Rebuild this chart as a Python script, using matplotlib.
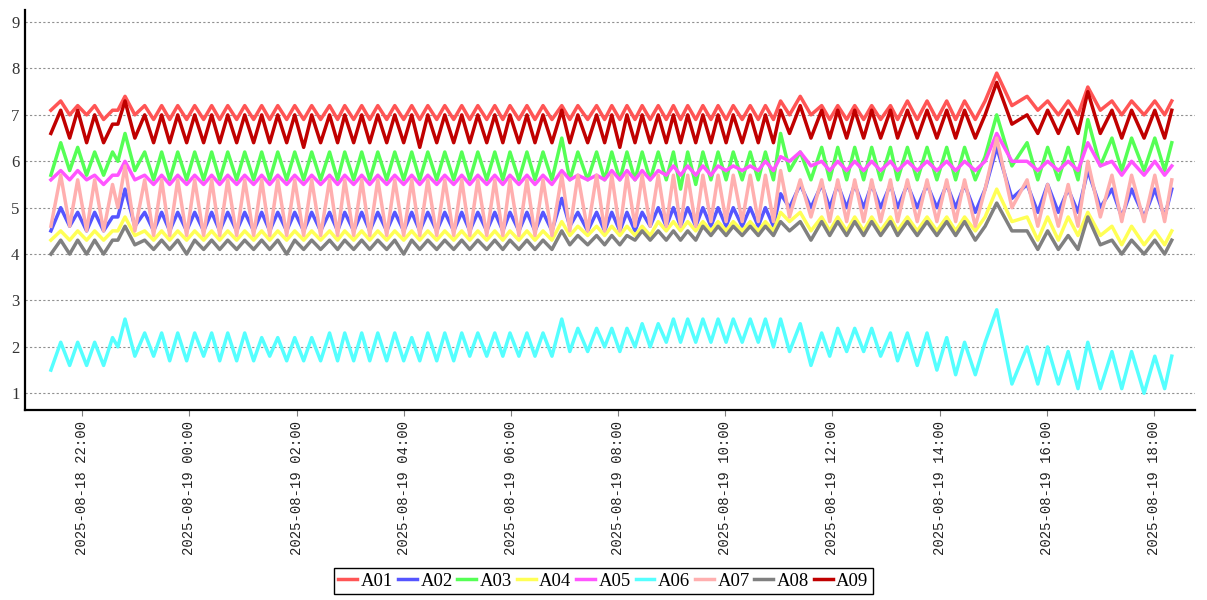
import numpy as np
import pandas as pd
import matplotlib
matplotlib.use("Agg")
import matplotlib.pyplot as plt
import matplotlib.dates as mdates

# sample times (peaks and troughs), 18th before midnight, 19th after
times = [
    "21:25", "21:36", "21:46", "21:55", "22:05", "22:14", "22:24", "22:34", "22:40", "22:48", "22:59",
    "23:10", "23:20", "23:29", "23:38", "23:47", "23:57", "00:06", "00:16", "00:25", "00:34",
    "00:43", "00:53", "01:02", "01:12", "01:21", "01:30", "01:39", "01:49", "01:58", "02:08",
    "02:17", "02:27", "02:37", "02:46", "02:54", "03:04", "03:13", "03:22", "03:31", "03:41",
    "03:50", "04:00", "04:09", "04:18", "04:27", "04:37", "04:46", "04:56", "05:05", "05:14",
    "05:23", "05:33", "05:42", "05:51", "05:59", "06:09", "06:18", "06:27", "06:36", "06:46",
    "06:57", "07:06", "07:15", "07:26", "07:36", "07:45", "07:53", "08:02", "08:10", "08:19",
    "08:27", "08:36", "08:45", "08:54", "09:02", "09:10", "09:18", "09:27", "09:35", "09:44",
    "09:52", "10:01", "10:09", "10:19", "10:28", "10:37", "10:45", "10:54", "11:02", "11:12",
    "11:24", "11:36", "11:48", "11:57", "12:06", "12:16", "12:25", "12:35", "12:44", "12:54",
    "13:05", "13:13", "13:24", "13:35", "13:46", "13:57", "14:08", "14:18", "14:28", "14:40",
    "14:51", "15:04", "15:21", "15:38", "15:50", "16:01", "16:13", "16:24", "16:35", "16:46",
    "17:00", "17:13", "17:24", "17:35", "17:49", "18:01", "18:12", "18:20",
]

a01 = [
    7.1, 7.3, 7.0, 7.2, 7.0, 7.2, 6.9, 7.1, 7.1, 7.4, 7.0,
    7.2, 6.9, 7.2, 6.9, 7.2, 6.9, 7.2, 6.9, 7.2, 6.9,
    7.2, 6.9, 7.2, 6.9, 7.2, 6.9, 7.2, 6.9, 7.2, 6.9,
    7.2, 6.9, 7.2, 6.9, 7.2, 6.9, 7.2, 6.9, 7.2, 6.9,
    7.2, 6.9, 7.2, 6.9, 7.2, 6.9, 7.2, 6.9, 7.2, 6.9,
    7.2, 6.9, 7.2, 6.9, 7.2, 6.9, 7.2, 6.9, 7.2, 6.9,
    7.2, 6.9, 7.2, 6.9, 7.2, 6.9, 7.2, 6.9, 7.2, 6.9,
    7.2, 6.9, 7.2, 6.9, 7.2, 6.9, 7.2, 6.9, 7.2, 6.9,
    7.2, 6.9, 7.2, 6.9, 7.2, 6.9, 7.2, 6.9, 7.3, 7.0,
    7.4, 7.0, 7.2, 6.9, 7.2, 6.9, 7.2, 6.9, 7.2, 6.9,
    7.2, 6.9, 7.3, 6.9, 7.3, 6.9, 7.3, 6.9, 7.3, 6.9,
    7.3, 7.9, 7.2, 7.4, 7.1, 7.3, 7.0, 7.3, 7.0, 7.6,
    7.1, 7.3, 7.0, 7.3, 7.0, 7.3, 7.0, 7.3,
]
a02 = [
    4.5, 5.0, 4.6, 4.9, 4.5, 4.9, 4.5, 4.8, 4.8, 5.4, 4.6,
    4.9, 4.5, 4.9, 4.5, 4.9, 4.5, 4.9, 4.5, 4.9, 4.5,
    4.9, 4.5, 4.9, 4.5, 4.9, 4.5, 4.9, 4.5, 4.9, 4.5,
    4.9, 4.5, 4.9, 4.5, 4.9, 4.5, 4.9, 4.5, 4.9, 4.5,
    4.9, 4.5, 4.9, 4.5, 4.9, 4.5, 4.9, 4.5, 4.9, 4.5,
    4.9, 4.5, 4.9, 4.5, 4.9, 4.5, 4.9, 4.5, 4.9, 4.5,
    5.2, 4.6, 4.9, 4.5, 4.9, 4.5, 4.9, 4.5, 4.9, 4.5,
    4.9, 4.6, 5.0, 4.6, 5.0, 4.6, 5.0, 4.6, 5.0, 4.6,
    5.0, 4.6, 5.0, 4.6, 5.0, 4.6, 5.0, 4.6, 5.3, 5.0,
    5.5, 5.0, 5.5, 5.0, 5.5, 5.0, 5.5, 5.0, 5.5, 5.0,
    5.5, 5.0, 5.5, 5.0, 5.5, 5.0, 5.5, 5.0, 5.5, 4.9,
    5.4, 6.3, 5.2, 5.5, 4.9, 5.5, 4.9, 5.4, 4.9, 5.8,
    5.0, 5.4, 4.8, 5.4, 4.8, 5.4, 4.8, 5.4,
]
a03 = [
    5.7, 6.4, 5.8, 6.3, 5.7, 6.2, 5.7, 6.2, 6.0, 6.6, 5.8,
    6.2, 5.6, 6.2, 5.6, 6.2, 5.6, 6.2, 5.6, 6.2, 5.6,
    6.2, 5.6, 6.2, 5.6, 6.2, 5.6, 6.2, 5.6, 6.2, 5.6,
    6.2, 5.6, 6.2, 5.6, 6.2, 5.6, 6.2, 5.6, 6.2, 5.6,
    6.2, 5.6, 6.2, 5.6, 6.2, 5.6, 6.2, 5.6, 6.2, 5.6,
    6.2, 5.6, 6.2, 5.6, 6.2, 5.6, 6.2, 5.6, 6.2, 5.6,
    6.5, 5.6, 6.2, 5.6, 6.2, 5.6, 6.2, 5.6, 6.2, 5.6,
    6.2, 5.6, 6.2, 5.6, 6.2, 5.4, 6.2, 5.5, 6.2, 5.6,
    6.2, 5.6, 6.2, 5.6, 6.2, 5.6, 6.2, 5.6, 6.6, 5.8,
    6.2, 5.6, 6.3, 5.6, 6.3, 5.6, 6.3, 5.6, 6.3, 5.6,
    6.3, 5.6, 6.3, 5.6, 6.3, 5.6, 6.3, 5.6, 6.3, 5.6,
    6.1, 7.0, 5.9, 6.4, 5.6, 6.3, 5.6, 6.3, 5.6, 6.9,
    5.9, 6.5, 5.8, 6.5, 5.8, 6.5, 5.8, 6.4,
]
a04 = [
    4.3, 4.5, 4.3, 4.5, 4.3, 4.5, 4.3, 4.5, 4.5, 4.8, 4.4,
    4.5, 4.3, 4.5, 4.3, 4.5, 4.3, 4.5, 4.3, 4.5, 4.3,
    4.5, 4.3, 4.5, 4.3, 4.5, 4.3, 4.5, 4.3, 4.5, 4.3,
    4.5, 4.3, 4.5, 4.3, 4.5, 4.3, 4.5, 4.3, 4.5, 4.3,
    4.5, 4.3, 4.5, 4.3, 4.5, 4.3, 4.5, 4.3, 4.5, 4.3,
    4.5, 4.3, 4.5, 4.3, 4.5, 4.3, 4.5, 4.3, 4.5, 4.3,
    4.7, 4.4, 4.6, 4.4, 4.6, 4.4, 4.6, 4.4, 4.6, 4.4,
    4.6, 4.4, 4.7, 4.5, 4.7, 4.5, 4.7, 4.5, 4.7, 4.5,
    4.7, 4.5, 4.7, 4.5, 4.7, 4.5, 4.7, 4.5, 4.9, 4.7,
    4.9, 4.5, 4.8, 4.5, 4.8, 4.5, 4.8, 4.5, 4.8, 4.5,
    4.8, 4.5, 4.8, 4.5, 4.8, 4.5, 4.8, 4.5, 4.8, 4.5,
    4.8, 5.4, 4.7, 4.8, 4.3, 4.8, 4.3, 4.8, 4.4, 4.9,
    4.4, 4.6, 4.2, 4.6, 4.2, 4.5, 4.2, 4.5,
]
a05 = [
    5.6, 5.8, 5.6, 5.8, 5.6, 5.7, 5.5, 5.7, 5.7, 6.0, 5.6,
    5.7, 5.5, 5.7, 5.5, 5.7, 5.5, 5.7, 5.5, 5.7, 5.5,
    5.7, 5.5, 5.7, 5.5, 5.7, 5.5, 5.7, 5.5, 5.7, 5.5,
    5.7, 5.5, 5.7, 5.5, 5.7, 5.5, 5.7, 5.5, 5.7, 5.5,
    5.7, 5.5, 5.7, 5.5, 5.7, 5.5, 5.7, 5.5, 5.7, 5.5,
    5.7, 5.5, 5.7, 5.5, 5.7, 5.5, 5.7, 5.5, 5.7, 5.5,
    5.8, 5.6, 5.7, 5.6, 5.7, 5.6, 5.8, 5.6, 5.8, 5.6,
    5.8, 5.6, 5.8, 5.7, 5.9, 5.7, 5.9, 5.7, 5.9, 5.7,
    5.9, 5.8, 5.9, 5.8, 5.9, 5.8, 6.0, 5.8, 6.1, 6.0,
    6.2, 5.9, 6.0, 5.8, 6.0, 5.8, 6.0, 5.8, 6.0, 5.8,
    6.0, 5.8, 6.0, 5.8, 6.0, 5.8, 6.0, 5.8, 6.0, 5.8,
    6.0, 6.6, 6.0, 6.0, 5.8, 6.0, 5.8, 6.0, 5.8, 6.4,
    5.9, 6.0, 5.7, 6.0, 5.7, 6.0, 5.7, 5.9,
]
a06 = [
    1.5, 2.1, 1.6, 2.1, 1.6, 2.1, 1.6, 2.2, 2.0, 2.6, 1.8,
    2.3, 1.8, 2.3, 1.7, 2.3, 1.7, 2.3, 1.8, 2.3, 1.7,
    2.3, 1.7, 2.3, 1.7, 2.2, 1.8, 2.2, 1.7, 2.2, 1.7,
    2.2, 1.7, 2.3, 1.7, 2.3, 1.7, 2.3, 1.7, 2.3, 1.7,
    2.3, 1.7, 2.2, 1.7, 2.3, 1.7, 2.3, 1.7, 2.3, 1.8,
    2.3, 1.8, 2.3, 1.8, 2.3, 1.8, 2.3, 1.8, 2.3, 1.8,
    2.6, 1.9, 2.4, 1.9, 2.4, 2.0, 2.4, 1.9, 2.4, 2.0,
    2.5, 2.0, 2.5, 2.1, 2.6, 2.1, 2.6, 2.1, 2.6, 2.1,
    2.6, 2.1, 2.6, 2.1, 2.6, 2.1, 2.6, 2.0, 2.6, 1.9,
    2.5, 1.6, 2.3, 1.8, 2.4, 1.9, 2.4, 1.9, 2.4, 1.8,
    2.3, 1.7, 2.3, 1.6, 2.3, 1.5, 2.2, 1.4, 2.1, 1.4,
    2.1, 2.8, 1.2, 2.0, 1.2, 2.0, 1.2, 1.9, 1.1, 2.1,
    1.1, 1.9, 1.1, 1.9, 1.0, 1.8, 1.1, 1.8,
]
a07 = [
    4.6, 5.7, 4.6, 5.6, 4.5, 5.6, 4.5, 5.5, 5.0, 5.9, 4.5,
    5.6, 4.4, 5.6, 4.4, 5.6, 4.4, 5.6, 4.4, 5.6, 4.4,
    5.6, 4.4, 5.6, 4.4, 5.6, 4.4, 5.6, 4.4, 5.6, 4.4,
    5.6, 4.4, 5.6, 4.4, 5.6, 4.4, 5.6, 4.4, 5.6, 4.4,
    5.6, 4.4, 5.6, 4.4, 5.6, 4.4, 5.6, 4.4, 5.6, 4.4,
    5.6, 4.4, 5.6, 4.4, 5.6, 4.4, 5.6, 4.4, 5.6, 4.4,
    5.7, 4.5, 5.7, 4.5, 5.7, 4.5, 5.7, 4.5, 5.7, 4.6,
    5.7, 4.6, 5.7, 4.6, 5.7, 4.6, 5.7, 4.6, 5.7, 4.7,
    5.7, 4.7, 5.7, 4.7, 5.7, 4.7, 5.7, 4.7, 5.8, 4.8,
    5.6, 4.8, 5.6, 4.7, 5.6, 4.7, 5.6, 4.7, 5.6, 4.7,
    5.6, 4.7, 5.6, 4.7, 5.6, 4.7, 5.6, 4.7, 5.6, 4.6,
    5.4, 6.5, 5.0, 5.6, 4.6, 5.5, 4.6, 5.5, 4.6, 6.0,
    4.8, 5.7, 4.7, 5.7, 4.7, 5.7, 4.7, 5.6,
]
a08 = [
    4.0, 4.3, 4.0, 4.3, 4.0, 4.3, 4.0, 4.3, 4.3, 4.6, 4.2,
    4.3, 4.1, 4.3, 4.1, 4.3, 4.0, 4.3, 4.1, 4.3, 4.1,
    4.3, 4.1, 4.3, 4.1, 4.3, 4.1, 4.3, 4.0, 4.3, 4.1,
    4.3, 4.1, 4.3, 4.1, 4.3, 4.1, 4.3, 4.1, 4.3, 4.1,
    4.3, 4.0, 4.3, 4.1, 4.3, 4.1, 4.3, 4.1, 4.3, 4.1,
    4.3, 4.1, 4.3, 4.1, 4.3, 4.1, 4.3, 4.1, 4.3, 4.1,
    4.5, 4.2, 4.4, 4.2, 4.4, 4.2, 4.4, 4.2, 4.4, 4.3,
    4.5, 4.3, 4.5, 4.3, 4.5, 4.3, 4.5, 4.3, 4.6, 4.4,
    4.6, 4.4, 4.6, 4.4, 4.6, 4.4, 4.6, 4.4, 4.7, 4.5,
    4.7, 4.3, 4.7, 4.4, 4.7, 4.4, 4.7, 4.4, 4.7, 4.4,
    4.7, 4.4, 4.7, 4.4, 4.7, 4.4, 4.7, 4.4, 4.7, 4.3,
    4.6, 5.1, 4.5, 4.5, 4.1, 4.5, 4.1, 4.4, 4.1, 4.8,
    4.2, 4.3, 4.0, 4.3, 4.0, 4.3, 4.0, 4.3,
]
a09 = [
    6.6, 7.1, 6.5, 7.1, 6.4, 7.0, 6.4, 6.8, 6.8, 7.3, 6.5,
    7.0, 6.4, 7.0, 6.4, 7.0, 6.4, 7.0, 6.4, 7.0, 6.4,
    7.0, 6.4, 7.0, 6.4, 7.0, 6.4, 7.0, 6.4, 7.0, 6.3,
    7.0, 6.4, 7.0, 6.4, 7.0, 6.4, 7.0, 6.4, 7.0, 6.4,
    7.0, 6.4, 7.0, 6.3, 7.0, 6.4, 7.0, 6.4, 7.0, 6.4,
    7.0, 6.4, 7.0, 6.4, 7.0, 6.4, 7.0, 6.4, 7.0, 6.4,
    7.1, 6.4, 7.0, 6.4, 7.0, 6.4, 7.0, 6.3, 7.0, 6.4,
    7.0, 6.4, 7.0, 6.4, 7.0, 6.4, 7.0, 6.4, 7.0, 6.4,
    7.0, 6.4, 7.0, 6.4, 7.0, 6.4, 7.0, 6.4, 7.1, 6.6,
    7.2, 6.5, 7.1, 6.5, 7.1, 6.5, 7.1, 6.5, 7.1, 6.5,
    7.1, 6.5, 7.1, 6.5, 7.1, 6.5, 7.1, 6.5, 7.1, 6.5,
    7.0, 7.7, 6.8, 7.0, 6.6, 7.1, 6.6, 7.1, 6.6, 7.5,
    6.6, 7.1, 6.5, 7.1, 6.5, 7.1, 6.5, 7.1,
]

names = ["A01", "A02", "A03", "A04", "A05", "A06", "A07", "A08", "A09"]
series = [a01, a02, a03, a04, a05, a06, a07, a08, a09]
colors = ["#ff5555", "#5555ff", "#55ff55", "#ffff55", "#ff55ff",
          "#55ffff", "#ffafaf", "#808080", "#c00000"]

stamps = [("2025-08-18 " if int(t[:2]) >= 21 else "2025-08-19 ") + t for t in times]
x = pd.to_datetime(stamps)

fig = plt.figure(figsize=(12.07, 6.0), dpi=100)
ax = fig.add_axes([25 / 1207, 1 - 410 / 600, 1170 / 1207, 400 / 600])

for name, vals, col in zip(names, series, colors):
    ax.plot(x, vals, color=col, lw=2.5, label=name)

ax.set_ylim(0.64, 9.26)
ax.set_yticks(range(1, 10))
ax.set_xlim(pd.Timestamp("2025-08-18 20:56"), pd.Timestamp("2025-08-19 18:46"))
ax.xaxis.set_major_locator(mdates.HourLocator(byhour=range(0, 24, 2)))
ax.xaxis.set_major_formatter(mdates.DateFormatter("%Y-%m-%d %H:%M"))

ax.yaxis.grid(True, color="#909090", linestyle=(0, (2, 2)), lw=0.8)
ax.set_axisbelow(True)
for s in ["top", "right"]:
    ax.spines[s].set_visible(False)
ax.spines["left"].set_linewidth(1.6)
ax.spines["bottom"].set_linewidth(1.6)

ax.tick_params(axis="y", length=0, pad=4)
ax.tick_params(axis="x", length=4, color="#808080", pad=4)
for lab in ax.get_yticklabels():
    lab.set_family("Liberation Serif")
    lab.set_fontsize(12)
    lab.set_color("#333333")
for lab in ax.get_xticklabels():
    lab.set_family("Liberation Mono")
    lab.set_fontsize(10)
    lab.set_rotation(90)
    lab.set_color("#222222")

leg = fig.legend(loc="center", bbox_to_anchor=(0.5, 1 - 581 / 600), ncol=9,
                 prop={"family": "Liberation Serif", "size": 13.5},
                 handlelength=1.0, handletextpad=0.2, columnspacing=0.25,
                 borderpad=0.25, fancybox=False, framealpha=1, edgecolor="black")
leg.get_frame().set_linewidth(1.0)
for h in leg.get_lines():
    h.set_linewidth(2.5)

fig.savefig("out.png", dpi=100)
